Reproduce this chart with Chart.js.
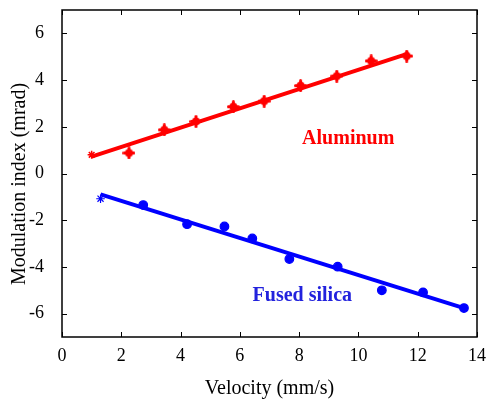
<!DOCTYPE html>
<html>
<head>
<meta charset="UTF-8">
<title>Modulation index vs velocity</title>
<script src="https://cdn.jsdelivr.net/npm/chart.js"></script>
<style>
  html,body{margin:0;padding:0;background:#fff;}
  #wrap{width:492px;height:401px;}
</style>
</head>
<body>
<div id="wrap"><canvas id="c" width="492" height="401"></canvas></div>
<script>
/* ==== data ==== */
const alVel   = [1.0, 2.26, 3.45, 4.52, 5.78, 6.82, 8.05, 9.27, 10.43, 11.63];
const alMod   = [0.8, 0.88, 1.87, 2.23, 2.86, 3.10, 3.76, 4.17, 4.82, 5.03];
const alFitX  = [1.0, 11.7];
const alFitY  = [0.72, 5.14];

const fsVel   = [1.3, 2.74, 4.22, 5.48, 6.42, 7.67, 9.30, 10.79, 12.18, 13.56];
const fsMod   = [-1.08, -1.35, -2.17, -2.27, -2.78, -3.66, -3.99, -5.00, -5.09, -5.76];
const fsFitX  = [1.3, 13.56];
const fsFitY  = [-0.89, -5.76];

const xTicks = [0, 2, 4, 6, 8, 10, 12, 14];
const yTicks = [-6, -4, -2, 0, 2, 4, 6];

const RED = '#ff0000', BLUE = '#0000ff';
const SERIF = '"Liberation Serif", "Times New Roman", serif';

const pts = (xs, ys) => xs.map((x,i)=>({x, y:ys[i]}));

// fat plus-with-dot marker used for the aluminum points
function plusDot(color){
  const c = document.createElement('canvas');
  c.width = 13; c.height = 13;
  const g = c.getContext('2d');
  g.fillStyle = color; g.strokeStyle = color;
  g.beginPath(); g.arc(6.5, 6.5, 4, 0, Math.PI*2); g.fill();
  g.lineWidth = 3; g.lineCap = 'round';
  g.beginPath();
  g.moveTo(6.5, 1.5); g.lineTo(6.5, 11.5);
  g.moveTo(1.5, 6.5); g.lineTo(11.5, 6.5);
  g.stroke();
  return c;
}
const alMark = plusDot(RED);
// first point of each series is drawn as a star in the original
const alStyles = alVel.map((_,i)=> i===0 ? 'star' : alMark);
const fsStyles = fsVel.map((_,i)=> i===0 ? 'star' : 'circle');

/* ==== frame, inward ticks, labels ==== */
const framePlugin = {
  id:'frame',
  afterDraw(chart){
    const {ctx, chartArea:a, scales:{x, y}} = chart;
    ctx.save();
    ctx.strokeStyle = '#000';
    ctx.lineWidth = 1.5;
    ctx.strokeRect(a.left, a.top, a.right-a.left, a.bottom-a.top);
    ctx.lineWidth = 1;
    ctx.beginPath();
    xTicks.forEach(v=>{
      const px = Math.round(x.getPixelForValue(v))+0.5;
      ctx.moveTo(px, a.bottom); ctx.lineTo(px, a.bottom-5);
      ctx.moveTo(px, a.top);    ctx.lineTo(px, a.top+5);
    });
    yTicks.forEach(v=>{
      const py = Math.round(y.getPixelForValue(v))+0.5;
      ctx.moveTo(a.left, py);  ctx.lineTo(a.left+5, py);
      ctx.moveTo(a.right, py); ctx.lineTo(a.right-5, py);
    });
    ctx.stroke();

    // y axis title (sits a bit lower than the plot centre in the original)
    ctx.save();
    ctx.translate(20, 184);
    ctx.rotate(-Math.PI/2);
    ctx.font = '20px ' + SERIF;
    ctx.fillStyle = '#000';
    ctx.textAlign = 'center';
    ctx.textBaseline = 'middle';
    ctx.fillText('Modulation index (mrad)', 0, 0);
    ctx.restore();

    ctx.font = 'bold 20px ' + SERIF;
    ctx.textBaseline = 'middle';
    ctx.textAlign = 'left';
    ctx.fillStyle = RED;
    ctx.fillText('Aluminum', x.getPixelForValue(8.1), y.getPixelForValue(1.47));
    ctx.fillStyle = '#2222dd';
    ctx.fillText('Fused silica', x.getPixelForValue(6.43), y.getPixelForValue(-5.22));
    ctx.restore();
  }
};

new Chart(document.getElementById('c'), {
  type:'scatter',
  data:{
    datasets:[
      {data:pts(alFitX, alFitY), showLine:true, borderColor:RED, borderWidth:4, pointRadius:0},
      {data:pts(alVel, alMod), backgroundColor:RED, borderColor:RED, borderWidth:1.5,
       pointStyle:alStyles, pointRadius:4},
      {data:pts(fsFitX, fsFitY), showLine:true, borderColor:BLUE, borderWidth:4, pointRadius:0},
      {data:pts(fsVel, fsMod), backgroundColor:BLUE, borderColor:BLUE, borderWidth:1.2,
       pointStyle:fsStyles, pointRadius:4.3}
    ]
  },
  options:{
    responsive:false,
    animation:false,
    layout:{padding:{left:8, right:15, top:10, bottom:0}},
    plugins:{legend:{display:false}, tooltip:{enabled:false}},
    scales:{
      x:{
        min:0, max:14,
        afterFit(s){ s.height = 64; s.paddingLeft = 0; s.paddingRight = 0; },
        afterBuildTicks(s){ s.ticks = xTicks.map(v=>({value:v})); },
        grid:{display:false}, border:{display:false},
        ticks:{color:'#000', font:{family:SERIF, size:18}, padding:0, maxRotation:0},
        title:{display:true, text:'Velocity (mm/s)', color:'#000',
               font:{family:SERIF, size:20}, padding:{top:0, bottom:0}}
      },
      y:{
        min:-7, max:7,
        afterFit(s){ s.width = 54; s.paddingTop = 0; s.paddingBottom = 0; },
        afterBuildTicks(s){ s.ticks = yTicks.map(v=>({value:v})); },
        grid:{display:false}, border:{display:false},
        ticks:{color:'#000', font:{family:SERIF, size:18}, padding:10}
      }
    }
  },
  plugins:[framePlugin]
});
</script>
</body>
</html>
